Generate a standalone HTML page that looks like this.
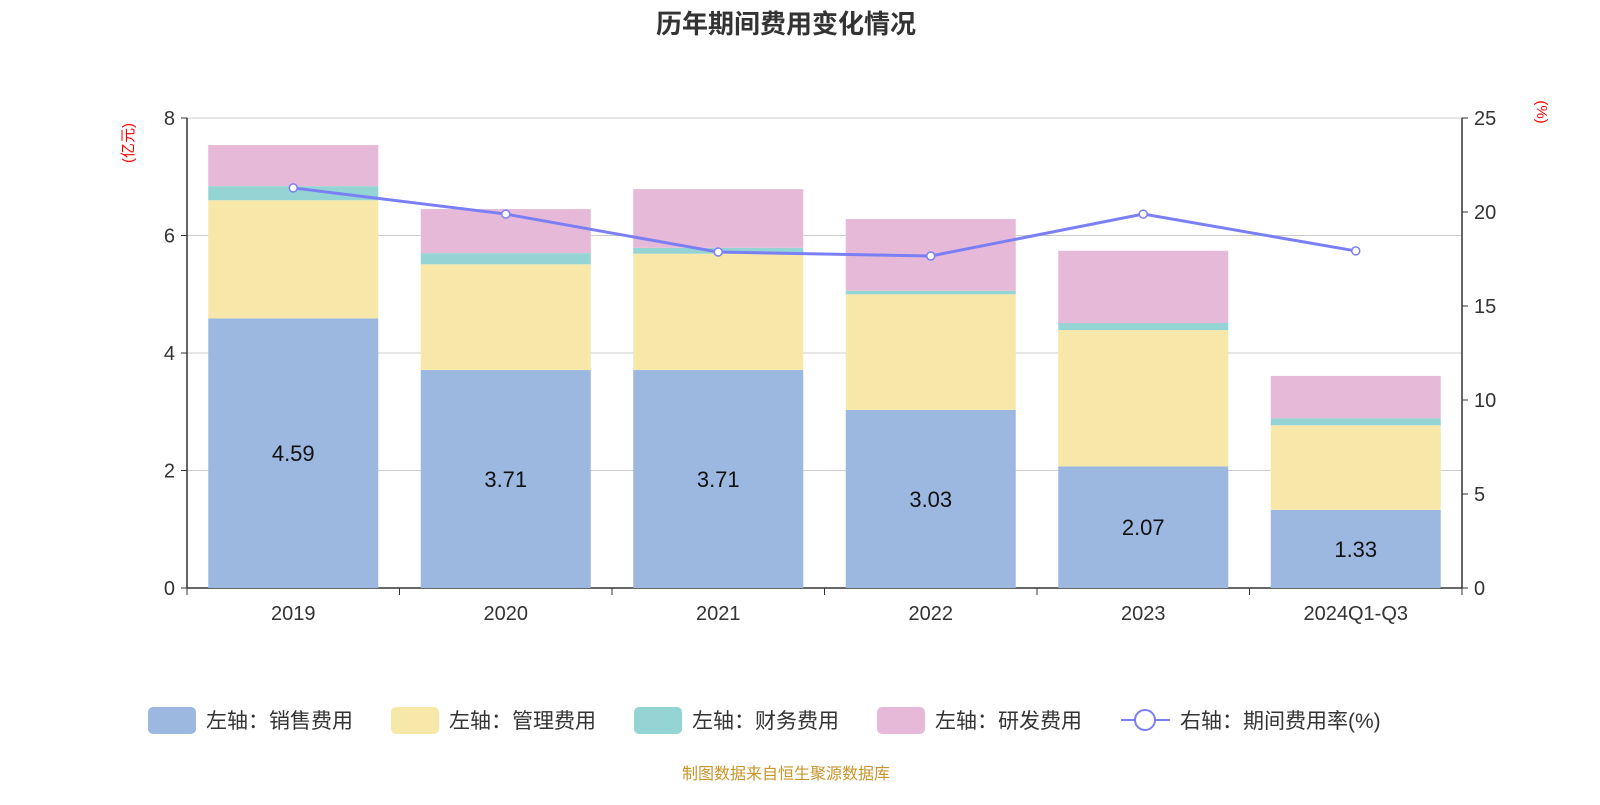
<!DOCTYPE html>
<html><head><meta charset="utf-8">
<style>
body{margin:0;background:#fff;width:1600px;height:800px;overflow:hidden;font-family:"Liberation Sans","Noto Sans CJK SC",sans-serif;}
svg text{font-family:"Liberation Sans","Noto Sans CJK SC",sans-serif;}
</style></head>
<body>
<svg id="chart" width="1600" height="800" xmlns="http://www.w3.org/2000/svg">
<text x="786" y="33" text-anchor="middle" font-size="26" font-weight="bold" fill="#333">历年期间费用变化情况</text>
<text transform="translate(133,143) rotate(-90)" text-anchor="middle" font-size="15" fill="#f00">(亿元)</text>
<text transform="translate(1537,112) rotate(90)" text-anchor="middle" font-size="15" fill="#f00">(%)</text>
<g id="grid"></g><g id="bars"></g><g id="axes"></g><g id="line"></g><g id="legend"></g>
<text x="786" y="779" text-anchor="middle" font-size="16" fill="#c8952b">制图数据来自恒生聚源数据库</text>
</svg>
<script>
const categories=["2019","2020","2021","2022","2023","2024Q1-Q3"];
const sales=[4.59,3.71,3.71,3.03,2.07,1.33];
const mgmt=[2.01,1.80,1.98,1.97,2.32,1.44];
const fin=[0.24,0.19,0.10,0.06,0.12,0.12];
const rd=[0.70,0.75,1.00,1.22,1.23,0.72];
const rate=[21.28,19.89,17.87,17.66,19.89,17.93];
const leftTicks=[0,2,4,6,8];
const rightTicks=[0,5,10,15,20,25];
const NS="http://www.w3.org/2000/svg";
const x0=187,x1=1462,yTop=118,yBot=588;
const band=(x1-x0)/categories.length;
const yL=v=>yBot-(yBot-yTop)*v/8;
const yR=v=>yBot-(yBot-yTop)*v/25;
const xc=i=>x0+band*(i+0.5);
function mk(tag,attrs,parent){const e=document.createElementNS(NS,tag);for(const k in attrs)e.setAttribute(k,attrs[k]);document.getElementById(parent).appendChild(e);return e;}
leftTicks.forEach(t=>{
 const g=mk('line',{x1:x0,x2:x1,y1:yL(t),y2:yL(t),stroke:t===0?'#333':'#ccc','stroke-width':t===0?1.5:1},'grid');
 
 const tk=mk('line',{x1:x0-6,x2:x0,y1:yL(t),y2:yL(t),stroke:'#333'},'axes');
 
 const l=mk('text',{x:x0-12,y:yL(t)+7,'text-anchor':'end','font-size':20,fill:'#333'},'axes');l.textContent=t;
 
});
rightTicks.forEach(t=>{
 const tk=mk('line',{x1:x1,x2:x1+6,y1:yR(t),y2:yR(t),stroke:'#333'},'axes');
 
 const l=mk('text',{x:x1+12,y:yR(t)+7,'font-size':20,fill:'#333'},'axes');l.textContent=t;
 
});
let a=mk('line',{x1:x0,x2:x0,y1:yTop,y2:yBot,stroke:'#333','stroke-width':1.5},'axes');

a=mk('line',{x1:x1,x2:x1,y1:yTop,y2:yBot,stroke:'#333','stroke-width':1.5},'axes');

for(let i=0;i<=categories.length;i++){const t=mk('line',{x1:x0+band*i,x2:x0+band*i,y1:yBot,y2:yBot+7,stroke:'#333'},'axes');
 }
const series=[[sales,'#9cb8e1','sales'],[mgmt,'#f7e7a9','management'],[fin,'#95d4d4','finance'],[rd,'#e7b9d8','rd']];
const bw=170;
categories.forEach((c,i)=>{
 let cum=0;
 series.forEach(([arr,col,nm])=>{
  const r=mk('rect',{x:xc(i)-bw/2,y:yL(cum+arr[i]),width:bw,height:yL(cum)-yL(cum+arr[i]),fill:col},'bars');
  
  cum+=arr[i];
 });
 const v=mk('text',{x:xc(i),y:(yL(sales[i])+yBot)/2+8,'text-anchor':'middle','font-size':22,fill:'#111'},'bars');v.textContent=sales[i].toFixed(2);
 
 const l=mk('text',{x:xc(i),y:yBot+32,'text-anchor':'middle','font-size':20,fill:'#333'},'axes');l.textContent=c;
 
});
const pl=mk('polyline',{points:rate.map((v,i)=>xc(i)+','+yR(v)).join(' '),fill:'none',stroke:'#7b7ff5','stroke-width':3},'line');

rate.forEach((v,i)=>{const p=mk('circle',{cx:xc(i),cy:yR(v),r:4,fill:'#fff',stroke:'#7b7ff5','stroke-width':1.5},'line');
 });
const legend=[['#9cb8e1','左轴：销售费用',148],['#f7e7a9','左轴：管理费用',391],['#95d4d4','左轴：财务费用',634],['#e7b9d8','左轴：研发费用',877]];
legend.forEach(([col,txt,x])=>{
 const r=mk('rect',{x:x,y:707,width:48,height:27,rx:5,fill:col},'legend');
 
 const t=mk('text',{x:x+58,y:728,'font-size':21,fill:'#333'},'legend');t.textContent=txt;
 
});
let ll=mk('line',{x1:1121,x2:1170,y1:720,y2:720,stroke:'#7b7ff5','stroke-width':2},'legend');

ll=mk('circle',{cx:1145,cy:720,r:10,fill:'#fff',stroke:'#7b7ff5','stroke-width':2},'legend');

ll=mk('text',{x:1180,y:728,'font-size':21,fill:'#333'},'legend');ll.textContent='右轴：期间费用率(%)';

</script>
</body></html>
